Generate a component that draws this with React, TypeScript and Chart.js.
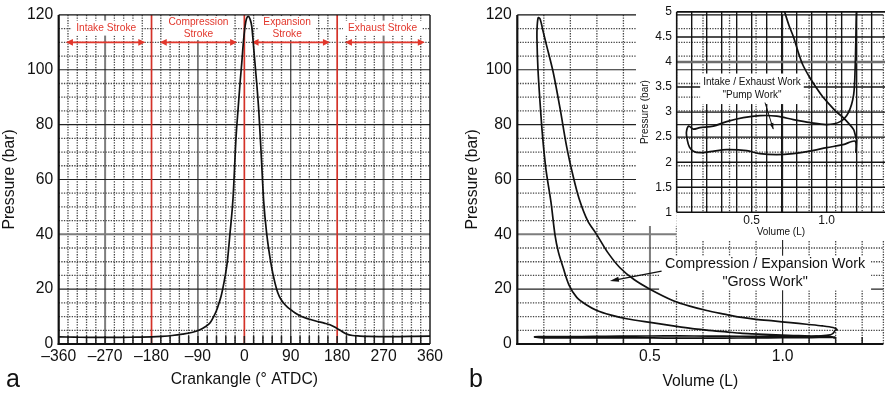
import React, { useEffect, useRef } from "react";
import { Chart, registerables } from "chart.js";

Chart.register(...registerables);

const FONT = '"Liberation Sans", Arial, Helvetica, sans-serif';
const INK = "#111111";
const RED = "#e2372c";
const RED_LINE = "#d43228";

// ---------------- Panel a: cylinder pressure vs crank angle ----------------
const CRANK_ANGLE = [
  -360, -330, -300, -270, -240, -210, -180, -160, -140, -120, -100, -86, -75, -66, -59.5, -54, -49,
  -45, -42, -37, -33, -28, -22, -16, -12, -8, -5, -2, 1.4, 4, 7.8, 11, 14.4, 17, 19.4, 24, 28,
  33, 37.5, 43.5, 51, 56, 62.6, 68, 75.7, 83, 92, 101, 111, 125, 140, 155, 166, 175, 182, 190, 198.6,
  210, 224, 240, 270, 300, 330, 360,
];
const CYL_PRESSURE = [
  2.6, 2.5, 2.4, 2.4, 2.4, 2.5, 2.6, 2.8, 3.1, 3.6, 4.3, 5.2, 6.4, 7.8, 10, 12.2, 15,
  17.5, 20, 25, 30, 40, 53, 75.7, 86, 96, 102.5, 109.8, 115.8, 118.5, 119.5, 118.5, 115.8, 110.5, 105, 95, 85,
  68, 52, 40, 30, 25, 20, 17.3, 15, 13.5, 12.2, 11, 10, 9.1, 8.3, 7.6, 7, 6.2, 5.4, 4.5, 3.6,
  3.1, 2.9, 2.75, 2.7, 2.7, 2.8, 2.9,
];
const ANGLE_TICKS = [-360, -270, -180, -90, 0, 90, 180, 270, 360];
const ANGLE_GRID_STEP = 18;
const PRESSURE_TICK_STEP = 20;
const PRESSURE_GRID_STEP = 5;
const STROKE_BOUNDARIES = [-180, 0, 180];
const STROKE_NAMES = [["Intake Stroke"], ["Compression", "Stroke"], ["Expansion", "Stroke"], ["Exhaust Stroke"]];
const STROKE_LABEL_ANGLE = [-268, -89, 83, 268];
const STROKE_LABEL_PRESSURE = 115.2;
const STROKE_ARROW_FROM = [-346, -164, 14, 195];
const STROKE_ARROW_TO = [-192, -14, 166, 350];
const STROKE_ARROW_PRESSURE = 110;

// ---------------- Panel b: p-V diagram ----------------
const VOLUME = [
  1.2, 1.19, 1.18, 1.145, 1.11, 1.06, 1.02, 0.975, 0.93, 0.885, 0.84, 0.81, 0.78, 0.75, 0.72, 0.66, 0.6, 0.513,
  0.412, 0.35, 0.3, 0.26, 0.224, 0.195, 0.173, 0.155, 0.142, 0.127, 0.108, 0.095, 0.086, 0.078, 0.074, 0.075, 0.079,
  0.086, 0.0977, 0.11, 0.1355, 0.161, 0.186, 0.211, 0.233, 0.265, 0.3, 0.34, 0.387, 0.44, 0.5, 0.588, 0.65, 0.714,
  0.78, 0.839, 0.9, 0.965, 1.03, 1.09, 1.15, 1.19, 1.205,
  1.198, 1.195, 1.19, 1.18, 1.145,
  1.09, 1.0, 0.889, 0.778, 0.667, 0.555, 0.444, 0.333, 0.244, 0.155, 0.11, 0.08, 0.065,
  0.07, 0.085, 0.111, 0.155, 0.222, 0.333, 0.467, 0.555, 0.667, 0.777, 0.889, 1.0, 1.11, 1.19, 1.195, 1.2,
];
const PV_PRESSURE = [
  2.45, 2.55, 2.65, 2.78, 2.89, 3.02, 3.15, 3.3, 3.49, 3.7, 3.95, 4.2, 4.49, 4.72, 5.0, 5.6, 6.4, 7.7,
  9.2, 10.6, 12.2, 14.3, 17, 21.5, 27.8, 33.5, 39.8, 51.7, 63.7, 76, 87.7, 100, 111.6, 116, 119,
  118.5, 113.8, 109, 99, 86, 72, 61, 53, 45, 39.8, 33.5, 27.8, 23.5, 20, 15.8, 13.8, 12.2,
  10.9, 9.8, 9.0, 8.4, 7.8, 7.2, 6.6, 6.0, 5.3,
  4.95, 4.5, 3.89, 3.35, 2.99,
  2.81, 2.75, 2.79, 2.85, 2.92, 2.93, 2.89, 2.81, 2.72, 2.69, 2.66, 2.72, 2.6,
  2.45, 2.3, 2.22, 2.19, 2.21, 2.25, 2.23, 2.17, 2.15, 2.17, 2.22, 2.29, 2.35, 2.42, 2.2, 2.45,
];
const VOLUME_TICKS = [0.5, 1.0];
const VOLUME_GRID_STEP = 0.1;
const VOLUME_MAX = 1.38;
const GROSS_LABEL = ["Compression / Expansion Work", '"Gross Work"'];
const GROSS_LABEL_V = 0.934;
const GROSS_LABEL_P = [29.1, 22.7];
const GROSS_ARROW_FROM = [0.544, 26.6];
const GROSS_ARROW_TO = [0.349, 23];

// ---------------- Inset: pumping loop ----------------
const INSET_P_MIN = 1;
const INSET_P_MAX = 5;
const INSET_P_STEP = 0.5;
const INSET_V_MAX = 1.389;
const PUMP_LABEL = ["Intake / Exhaust Work", '"Pump Work"'];
const PUMP_LABEL_V = 0.502;
const PUMP_LABEL_P = [3.6, 3.33];
const PUMP_ARROW_FROM = [0.589, 3.19];
const PUMP_ARROW_TO = [0.644, 2.66];

type LineStyle = { color: string; width: number; dash: number[] };
const DOT: LineStyle = { color: "#454545", width: 1.3, dash: [1.3, 1.3] };
const SOLID: LineStyle = { color: "#222222", width: 1.1, dash: [] };
const GRAY: LineStyle = { color: "#7d7d7d", width: 2, dash: [] };
const INSET_SOLID: LineStyle = { color: "#151515", width: 1.4, dash: [] };
const TICK: LineStyle = { color: "#222222", width: 1.5, dash: [] };

function seg(ctx: any, x1: number, y1: number, x2: number, y2: number, s: LineStyle) {
  ctx.save();
  ctx.beginPath();
  ctx.strokeStyle = s.color;
  ctx.lineWidth = s.width;
  ctx.setLineDash(s.dash);
  ctx.moveTo(x1, y1);
  ctx.lineTo(x2, y2);
  ctx.stroke();
  ctx.restore();
}

function head(ctx: any, fx: number, fy: number, tx: number, ty: number, len: number, half: number, color: string) {
  const a = Math.atan2(ty - fy, tx - fx);
  const c = Math.cos(a), s = Math.sin(a);
  ctx.save();
  ctx.fillStyle = color;
  ctx.beginPath();
  ctx.moveTo(tx, ty);
  ctx.lineTo(tx - len * c + half * s, ty - len * s - half * c);
  ctx.lineTo(tx - len * c - half * s, ty - len * s + half * c);
  ctx.closePath();
  ctx.fill();
  ctx.restore();
}

function textBox(ctx: any, lines: string[], cx: number, ys: number[], font: string, color: string, padX: number, padY: number) {
  ctx.save();
  ctx.font = font;
  const w = Math.max(...lines.map((l) => ctx.measureText(l).width));
  const top = Math.min(...ys) - padY;
  const bottom = Math.max(...ys) + padY;
  ctx.fillStyle = "#ffffff";
  ctx.fillRect(cx - w / 2 - padX, top, w + 2 * padX, bottom - top);
  ctx.fillStyle = color;
  ctx.textAlign = "center";
  ctx.textBaseline = "middle";
  lines.forEach((l, i) => ctx.fillText(l, cx, ys[i]));
  ctx.restore();
}

function frame(ctx: any, a: any, top: boolean, right: boolean, rightStyle?: LineStyle) {
  const thick: LineStyle = { color: INK, width: 2.2, dash: [] };
  const thin: LineStyle = { color: INK, width: 1.4, dash: [] };
  if (top) seg(ctx, a.left, a.top, a.right, a.top, thin);
  if (right) seg(ctx, a.right, a.top, a.right, a.bottom, rightStyle || thin);
  seg(ctx, a.left, a.top, a.left, a.bottom + 1, thick);
  seg(ctx, a.left - 1, a.bottom, a.right, a.bottom, thick);
}

function horizontalGrid(ctx: any, a: any, y: any) {
  for (let p = PRESSURE_GRID_STEP; p < 120; p += PRESSURE_GRID_STEP) {
    const py = y.getPixelForValue(p);
    const s = p % PRESSURE_TICK_STEP !== 0 ? DOT : p === 40 ? GRAY : SOLID;
    seg(ctx, a.left, py, a.right, py, s);
  }
}

const panelAPlugin = {
  id: "panelA",
  beforeDatasetsDraw(chart: any) {
    const { ctx, chartArea: a } = chart;
    const x = chart.scales.x, y = chart.scales.y;
    for (let v = -360 + ANGLE_GRID_STEP; v < 360; v += ANGLE_GRID_STEP) {
      if (STROKE_BOUNDARIES.includes(v)) continue;
      const px = x.getPixelForValue(v);
      const s = v % 90 !== 0 ? DOT : Math.abs(v) === 270 ? GRAY : SOLID;
      seg(ctx, px, a.top, px, a.bottom, s);
    }
    horizontalGrid(ctx, a, y);
    STROKE_BOUNDARIES.forEach((v) => {
      const px = x.getPixelForValue(v);
      seg(ctx, px, a.top, px, a.bottom, { color: RED_LINE, width: 1.7, dash: [] });
    });
    for (let v = -360 + ANGLE_GRID_STEP; v < 360; v += ANGLE_GRID_STEP) {
      const px = x.getPixelForValue(v);
      seg(ctx, px, a.bottom - 8, px, a.bottom, TICK);
    }
    const font = `10.2px ${FONT}`;
    STROKE_NAMES.forEach((lines, i) => {
      const cx = x.getPixelForValue(STROKE_LABEL_ANGLE[i]);
      const cy = y.getPixelForValue(STROKE_LABEL_PRESSURE);
      const ys = lines.length === 1 ? [cy] : [cy - 6, cy + 6];
      textBox(ctx, lines, cx, ys, font, RED, 5, lines.length === 1 ? 7.5 : 6);
      const x1 = x.getPixelForValue(STROKE_ARROW_FROM[i]);
      const x2 = x.getPixelForValue(STROKE_ARROW_TO[i]);
      const ay = y.getPixelForValue(STROKE_ARROW_PRESSURE);
      seg(ctx, x1 + 4, ay, x2 - 4, ay, { color: RED, width: 1.6, dash: [] });
      head(ctx, x2, ay, x1, ay, 7, 3.3, RED);
      head(ctx, x1, ay, x2, ay, 7, 3.3, RED);
    });
  },
  afterDatasetsDraw(chart: any) {
    frame(chart.ctx, chart.chartArea, true, true);
  },
};

const panelBPlugin = {
  id: "panelB",
  beforeDatasetsDraw(chart: any) {
    const { ctx, chartArea: a } = chart;
    const x = chart.scales.x, y = chart.scales.y;
    for (let k = 1; k * VOLUME_GRID_STEP < VOLUME_MAX - 0.02; k++) {
      const v = +(k * VOLUME_GRID_STEP).toFixed(3);
      const px = x.getPixelForValue(v);
      const s = v === 0.5 ? GRAY : VOLUME_TICKS.includes(v) ? SOLID : DOT;
      seg(ctx, px, a.top, px, a.bottom, s);
      seg(ctx, px, a.bottom - 7, px, a.bottom, TICK);
    }
    horizontalGrid(ctx, a, y);
    const cx = x.getPixelForValue(GROSS_LABEL_V);
    textBox(ctx, GROSS_LABEL, cx, GROSS_LABEL_P.map((p) => y.getPixelForValue(p)), `14.3px ${FONT}`, INK, 6, 8.5);
    const fx = x.getPixelForValue(GROSS_ARROW_FROM[0]), fy = y.getPixelForValue(GROSS_ARROW_FROM[1]);
    const tx = x.getPixelForValue(GROSS_ARROW_TO[0]), ty = y.getPixelForValue(GROSS_ARROW_TO[1]);
    seg(ctx, fx, fy, tx + 6, ty - 1, { color: INK, width: 1.2, dash: [] });
    head(ctx, fx, fy, tx, ty, 9, 2.6, INK);
  },
  afterDatasetsDraw(chart: any) {
    frame(chart.ctx, chart.chartArea, true, true, DOT);
  },
};

const insetPlugin = {
  id: "inset",
  beforeDraw(chart: any) {
    const { ctx, chartArea: a, width, height } = chart;
    ctx.save();
    ctx.fillStyle = "#ffffff";
    ctx.fillRect(0, 0, a.left, 226);
    ctx.fillRect(0, 0, width, a.top);
    ctx.fillRect(a.left, a.bottom, width - a.left, height - a.bottom);
    ctx.restore();
  },
  beforeDatasetsDraw(chart: any) {
    const { ctx, chartArea: a } = chart;
    const x = chart.scales.x, y = chart.scales.y;
    for (let k = 1; k * VOLUME_GRID_STEP < INSET_V_MAX; k++) {
      const px = x.getPixelForValue(k * VOLUME_GRID_STEP);
      seg(ctx, px, a.top, px, a.bottom, INSET_SOLID);
    }
    for (let k = 1; INSET_P_MIN + k * INSET_P_STEP < INSET_P_MAX; k++) {
      const p = INSET_P_MIN + k * INSET_P_STEP;
      const py = y.getPixelForValue(p);
      seg(ctx, a.left, py, a.right, py, p === 4 ? { color: "#6e6e6e", width: 2.6, dash: [] } : INSET_SOLID);
    }
    const cx = x.getPixelForValue(PUMP_LABEL_V);
    textBox(ctx, PUMP_LABEL, cx, PUMP_LABEL_P.map((p) => y.getPixelForValue(p)), `10px ${FONT}`, INK, 3, 8.5);
    const fx = x.getPixelForValue(PUMP_ARROW_FROM[0]), fy = y.getPixelForValue(PUMP_ARROW_FROM[1]);
    const tx = x.getPixelForValue(PUMP_ARROW_TO[0]), ty = y.getPixelForValue(PUMP_ARROW_TO[1]);
    seg(ctx, fx, fy, tx, ty, { color: INK, width: 1, dash: [] });
    head(ctx, fx, fy, tx, ty, 6, 2, INK);
  },
  afterDatasetsDraw(chart: any) {
    const { ctx, chartArea: a } = chart;
    const st: LineStyle = { color: INK, width: 1.6, dash: [] };
    seg(ctx, a.left, a.top, a.right, a.top, st);
    seg(ctx, a.left, a.top, a.left, a.bottom, st);
    seg(ctx, a.left, a.bottom, a.right, a.bottom, st);
  },
};

const tickFont = { family: FONT, size: 15.7 };
const NO_GRID = { display: false, drawTicks: false, tickLength: 0 };

function baseOptions(padding: any) {
  return {
    responsive: false,
    animation: false as const,
    devicePixelRatio: 1,
    events: [] as any[],
    layout: { padding },
    plugins: { legend: { display: false }, tooltip: { enabled: false } },
  };
}

function pressureAxis(width: number, titlePad: number) {
  return {
    type: "linear" as const,
    min: 0,
    max: 120,
    grid: NO_GRID,
    border: { display: false },
    afterFit: (s: any) => {
      s.width = width;
    },
    ticks: { stepSize: PRESSURE_TICK_STEP, font: tickFont, color: INK, padding: 5.5 },
    title: { display: true, text: "Pressure (bar)", font: tickFont, color: INK, padding: { top: titlePad, bottom: 0 } },
  };
}

export default function App() {
  const refA = useRef<HTMLCanvasElement>(null);
  const refB = useRef<HTMLCanvasElement>(null);
  const refC = useRef<HTMLCanvasElement>(null);

  useEffect(() => {
    const charts: Chart[] = [];
    const pvData = VOLUME.map((v, i) => ({ x: v, y: PV_PRESSURE[i] }));

    charts.push(
      new Chart(refA.current as HTMLCanvasElement, {
        type: "line",
        data: {
          datasets: [
            {
              data: CRANK_ANGLE.map((a, i) => ({ x: a, y: CYL_PRESSURE[i] })),
              borderColor: INK,
              borderWidth: 1.7,
              pointRadius: 0,
              cubicInterpolationMode: "monotone",
              fill: false,
            },
          ],
        },
        options: {
          ...baseOptions({ left: 0, top: 10, right: 20, bottom: 0 }),
          scales: {
            x: {
              type: "linear",
              min: -360,
              max: 360,
              grid: NO_GRID,
              border: { display: false },
              afterBuildTicks: (s: any) => {
                s.ticks = ANGLE_TICKS.map((v) => ({ value: v }));
              },
              afterFit: (s: any) => {
                s.height = 49;
              },
              ticks: {
                font: tickFont,
                color: INK,
                padding: 3,
                maxRotation: 0,
                autoSkip: false,
                callback: (v: any) => (Number(v) < 0 ? "\u2013" + String(-Number(v)) : String(v)),
              },
              title: { display: true, text: "Crankangle (\u00b0 ATDC)", font: tickFont, color: INK, padding: { top: 0, bottom: 3.6 } },
            },
            y: pressureAxis(58.7, 0.6),
          },
        } as any,
        plugins: [panelAPlugin],
      })
    );

    charts.push(
      new Chart(refB.current as HTMLCanvasElement, {
        type: "scatter",
        data: {
          datasets: [
            {
              data: pvData,
              showLine: true,
              borderColor: INK,
              borderWidth: 1.7,
              pointRadius: 0,
              tension: 0.3,
              fill: false,
            },
          ],
        },
        options: {
          ...baseOptions({ left: 0, top: 10, right: 1.6, bottom: 0 }),
          scales: {
            x: {
              type: "linear",
              min: 0,
              max: VOLUME_MAX,
              grid: NO_GRID,
              border: { display: false },
              afterBuildTicks: (s: any) => {
                s.ticks = VOLUME_TICKS.map((v) => ({ value: v }));
              },
              afterFit: (s: any) => {
                s.height = 49;
              },
              ticks: { font: tickFont, color: INK, padding: 3, maxRotation: 0, callback: (v: any) => Number(v).toFixed(1) },
              title: { display: true, text: "Volume (L)", font: tickFont, color: INK, padding: { top: 0, bottom: 1.9 } },
            },
            y: pressureAxis(67.3, 13.6),
          },
        } as any,
        plugins: [panelBPlugin],
      })
    );

    charts.push(
      new Chart(refC.current as HTMLCanvasElement, {
        type: "scatter",
        data: {
          datasets: [
            {
              data: pvData,
              showLine: true,
              borderColor: INK,
              borderWidth: 1.7,
              pointRadius: 0,
              tension: 0.3,
              fill: false,
            },
          ],
        },
        options: {
          ...baseOptions({ left: 0, top: 11, right: 0, bottom: 0 }),
          scales: {
            x: {
              type: "linear",
              min: 0,
              max: INSET_V_MAX,
              grid: NO_GRID,
              border: { display: false },
              afterBuildTicks: (s: any) => {
                s.ticks = VOLUME_TICKS.map((v) => ({ value: v }));
              },
              afterFit: (s: any) => {
                s.height = 27.7;
              },
              ticks: { font: { family: FONT, size: 12 }, color: INK, padding: 1.5, maxRotation: 0, callback: (v: any) => Number(v).toFixed(1) },
              title: { display: true, text: "Volume (L)", font: { family: FONT, size: 10 }, color: INK, padding: { top: 0, bottom: 2 } },
            },
            y: {
              type: "linear",
              min: INSET_P_MIN,
              max: INSET_P_MAX,
              grid: NO_GRID,
              border: { display: false },
              afterFit: (s: any) => {
                s.width = 40.7;
              },
              ticks: {
                stepSize: INSET_P_STEP,
                font: { family: FONT, size: 12 },
                color: INK,
                padding: 4.7,
                callback: (v: any) => String(+Number(v).toFixed(1)),
              },
              title: { display: true, text: "Pressure (bar)", font: { family: FONT, size: 10 }, color: INK, padding: { top: 3, bottom: 0 } },
            },
          },
        } as any,
        plugins: [insetPlugin],
      })
    );

    return () => charts.forEach((c) => c.destroy());
  }, []);

  const letter = { position: "absolute" as const, top: 366, fontFamily: FONT, fontSize: 25, lineHeight: "25px", color: INK };

  return (
    <div style={{ position: "fixed", left: 0, top: 0, width: 885, height: 393, background: "#ffffff", overflow: "hidden" }}>
      <canvas ref={refA} width={450} height={393} style={{ position: "absolute", left: 0, top: 0 }} />
      <canvas ref={refB} width={435} height={393} style={{ position: "absolute", left: 450, top: 0 }} />
      <canvas ref={refC} width={249} height={240} style={{ position: "absolute", left: 636, top: 0 }} />
      <div style={{ ...letter, left: 6 }}>a</div>
      <div style={{ ...letter, left: 469 }}>b</div>
    </div>
  );
}
